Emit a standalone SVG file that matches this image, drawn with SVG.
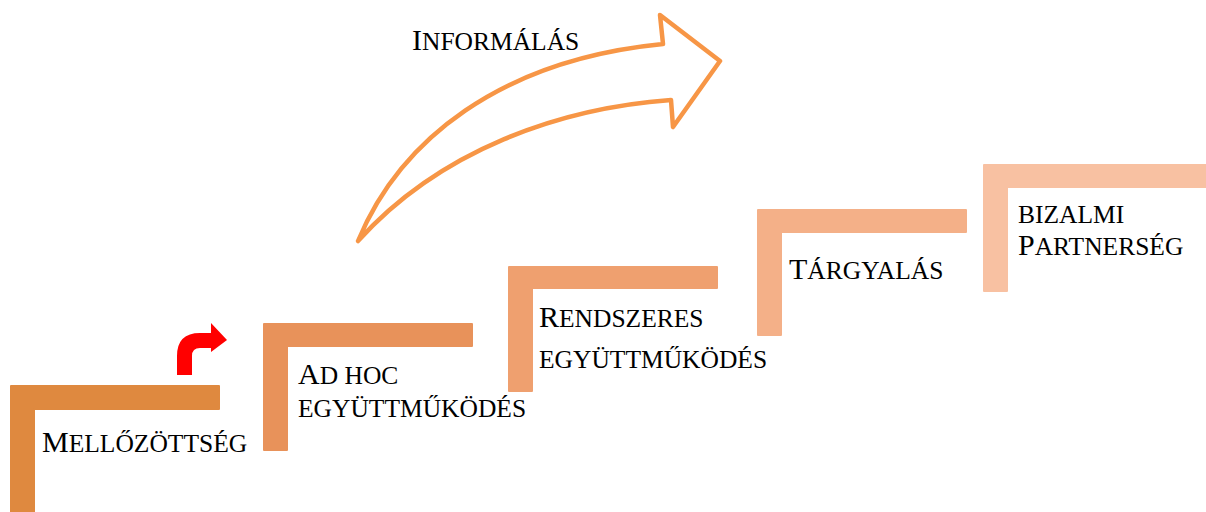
<svg xmlns="http://www.w3.org/2000/svg" width="1206" height="512" viewBox="0 0 1206 512">
<style>
text{font-family:"Liberation Serif","Times New Roman",serif;fill:#000;font-size:25.5px}
.b{font-size:30px}
.arrow{fill:none;stroke:#F79646;stroke-width:4.5;stroke-linejoin:round;stroke-linecap:round}
.step{stroke-linejoin:round;stroke-width:2}
</style>
<rect width="1206" height="512" fill="#fff"/>
<g id="connectors">
<path class="arrow" d="M358,241 C400,140 500,60 663,44 L660,15 L720,61 L673,127 L671,100 C560,108 440,150 358,241 Z"/>
<path d="M177,375 L177,356 Q177,333 200,333 L211,333 L211,323 L227,340 L211,352 L211,348 L200,348 Q192,348 192,356 L192,375 Z" fill="#FF0000"/>
</g>
<g id="node1">
<path class="step" d="M11,386 H219 V409 H34 V512 H11 Z" fill="#DF893F" stroke="#DF893F"/>
<text x="42" y="452"><tspan class="b">M</tspan>ELLŐZÖTTSÉG</text>
</g>
<g id="node2">
<path class="step" d="M264,324 H472 V346 H287 V450 H264 Z" fill="#E8925A" stroke="#E8925A"/>
<text x="298" y="384"><tspan class="b">A</tspan>D HOC</text>
<text x="298" y="417">EGYÜTTMŰKÖDÉS</text>
</g>
<g id="node3">
<path class="step" d="M509,267 H717 V288 H532 V391 H509 Z" fill="#EFA06F" stroke="#EFA06F"/>
<text x="539" y="327"><tspan class="b">R</tspan>ENDSZERES</text>
<text x="539" y="368">EGYÜTTMŰKÖDÉS</text>
</g>
<g id="node4">
<path class="step" d="M758,210 H966 V232 H781 V335 H758 Z" fill="#F4B088" stroke="#F4B088"/>
<text x="789" y="279"><tspan class="b">T</tspan>ÁRGYALÁS</text>
</g>
<g id="node5">
<path class="step" d="M984,165 H1207 V187 H1007 V291 H984 Z" fill="#F8C1A2" stroke="#F8C1A2"/>
<text x="1018" y="223">BIZALMI</text>
<text x="1018" y="255"><tspan class="b">P</tspan>ARTNERSÉG</text>
</g>
<g id="label">
<text x="412" y="50"><tspan class="b">I</tspan>NFORMÁLÁS</text>
</g>
</svg>
